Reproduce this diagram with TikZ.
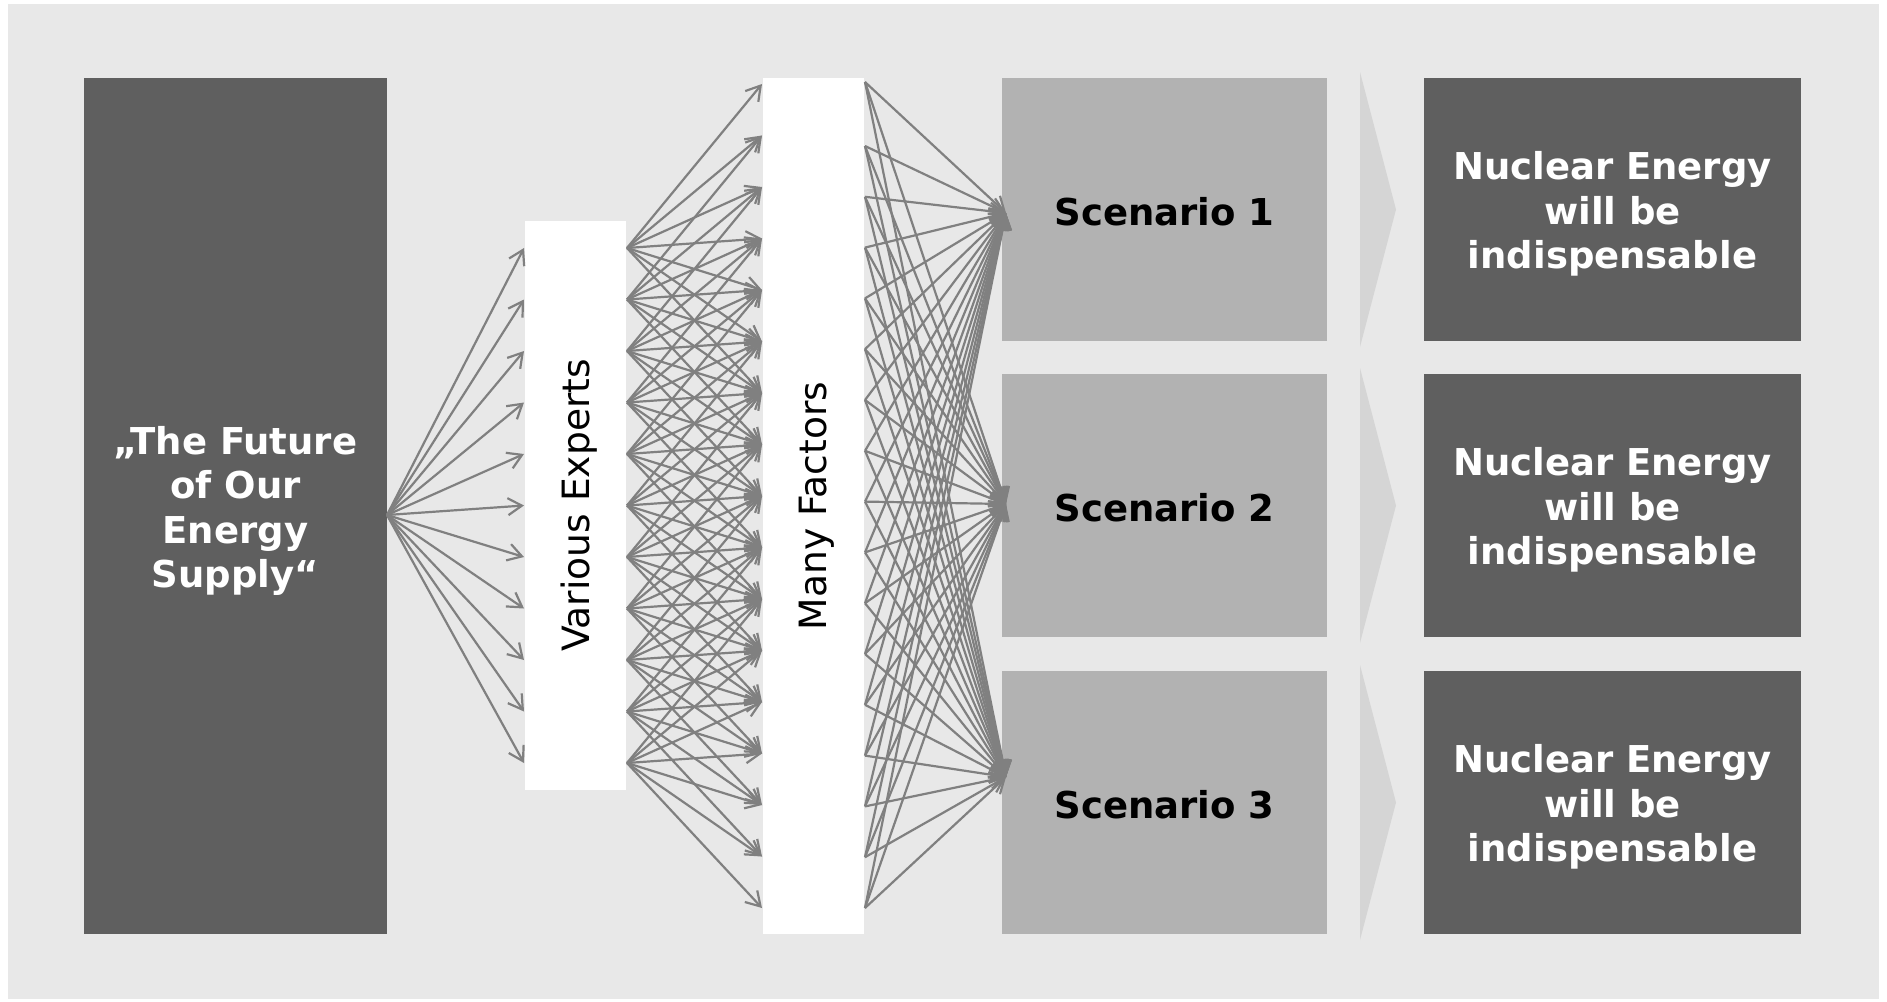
\documentclass[tikz,border=0pt]{standalone}
\usepackage{fontspec}
\setmainfont{DejaVu Sans}
\usetikzlibrary{arrows.meta}
\definecolor{bgc}{HTML}{E8E8E8}
\definecolor{darkc}{HTML}{5F5F5F}
\definecolor{scenc}{HTML}{B2B2B2}
\definecolor{arrowc}{HTML}{808080}
\definecolor{chevc}{HTML}{D5D5D5}
\newcommand{\rotlabel}[1]{\raisebox{-1.8pt}[\height][\depth]{#1}}
\begin{document}
\begin{tikzpicture}[x=0.5pt,y=-0.5pt,
  basebox/.style={inner sep=0pt, outer sep=0pt, align=center, font=\fontsize{18.8}{22.2}\selectfont},
  darkbox/.style={basebox, fill=darkc, text=white, font=\fontsize{18.5}{22.2}\selectfont\bfseries},
  whitebox/.style={basebox, fill=white, text=black, rotate=90, minimum height=50.5pt},
  scenbox/.style={basebox, fill=scenc, text=black, font=\fontsize{18.5}{22.2}\selectfont\bfseries, minimum width=162.5pt, minimum height=131.5pt},
  resbox/.style={darkbox, minimum width=188.5pt, minimum height=131.5pt},
  chevron/.style={fill=chevc},
  conn/.style={draw=arrowc, line width=1.1pt, -{Straight Barb[length=7pt,width=8.5pt]}}
]
\useasboundingbox (0,0) rectangle (1887,1002);
\fill[white] (0,0) rectangle (1887,1002);
\fill[bgc] (8,4) rectangle (1879,999);

% main boxes
\node[darkbox, minimum width=151.5pt, minimum height=428pt] (topic) at (235.5,506) {\rule{0pt}{19pt}„The Future\\of Our\\Energy\\Supply“};
\node[whitebox, minimum width=284.5pt] (experts) at (575.5,505.5) {\rotlabel{Various Experts}};
\node[whitebox, minimum width=428pt] (factors) at (813.5,506) {\rotlabel{Many Factors}};

\node[scenbox] (sc1) at (1164.5,209.5) {\rule{0pt}{16pt}Scenario 1};
\node[scenbox] (sc2) at (1164.5,505.5) {\rule{0pt}{16pt}Scenario 2};
\node[scenbox] (sc3) at (1164.5,802.5) {\rule{0pt}{16pt}Scenario 3};

\node[resbox] (res1) at (1612.5,209.5) {\rule{0pt}{18.5pt}Nuclear Energy\\will be\\indispensable};
\node[resbox] (res2) at (1612.5,505.5) {\rule{0pt}{18.5pt}Nuclear Energy\\will be\\indispensable};
\node[resbox] (res3) at (1612.5,802.5) {\rule{0pt}{18.5pt}Nuclear Energy\\will be\\indispensable};

% chevrons
\foreach \c in {209.5,505.5,802.5}
  \fill[chevron] (1360,{\c-137.5}) -- (1396,\c) -- (1360,{\c+137.5}) -- cycle;

% connector end points
\coordinate (src) at (387,515);
\foreach \k in {0,...,10} {
  \coordinate (eL\k) at (524,{248+51.5*\k});
  \coordinate (eR\k) at (627,{248+51.5*\k});
}
\foreach \j in {0,...,16}
  \coordinate (fL\j) at (762,{84+51.5*\j});
\coordinate (fR0) at (865,82);
\foreach \j in {1,...,16}
  \coordinate (fR\j) at (865,{146+50.8*(\j-1)});
\coordinate (in1) at (1006,213);
\coordinate (in2) at (1006,504);
\coordinate (in3) at (1006,777);

% connectors
\foreach \k in {0,...,10}
  \draw[conn] (src) -- (eL\k);
\foreach \i in {0,...,10} {
  \foreach \d in {0,...,6} {
    \pgfmathtruncatemacro\j{\i+\d}
    \draw[conn] (eR\i) -- (fL\j);
  }
}
\foreach \j in {0,...,16} {
  \foreach \s in {1,2,3}
    \draw[conn] (fR\j) -- (in\s);
}
\end{tikzpicture}
\end{document}
